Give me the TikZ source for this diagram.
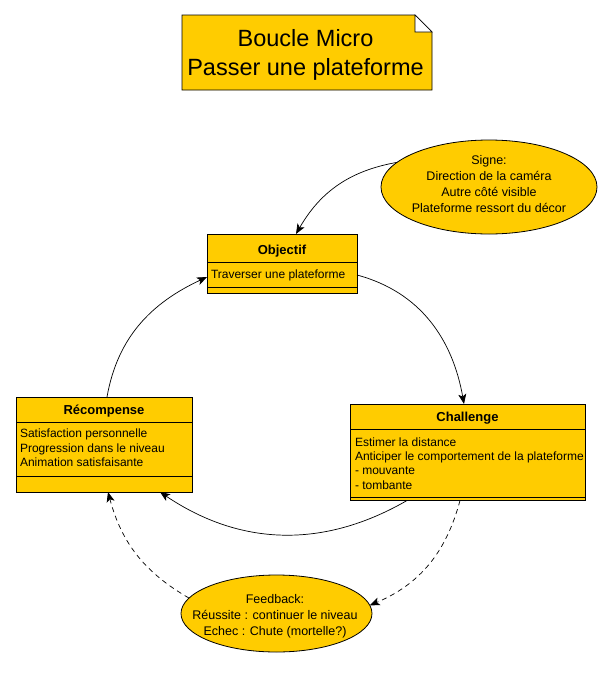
\documentclass[tikz,border=0pt]{standalone}
\usepackage{fontspec}
\setmainfont{Liberation Sans}
\usetikzlibrary{arrows.meta,calc,shapes.geometric}
\definecolor{umlfill}{HTML}{FFCC00}
\begin{document}
\begin{tikzpicture}[x=1pt,y=1pt,
  every node/.style={inner sep=0pt,outer sep=0pt},
  umlbox/.style={draw=black,fill=umlfill,line width=0.8pt,rectangle},
  umlell/.style={draw=black,fill=umlfill,line width=0.8pt,ellipse},
  boxtitle/.style={font=\fontsize{13}{15}\selectfont\bfseries,anchor=base},
  boxline/.style={font=\fontsize{12}{14}\selectfont,anchor=base west},
  elline/.style={font=\fontsize{12.5}{15}\selectfont,anchor=base},
  divider/.style={line width=0.8pt},
  arr/.style={line width=0.7pt,-{Stealth[length=10pt,width=8pt,inset=2.5pt]}},
  dasharr/.style={arr,dash pattern=on 5pt off 4pt}]
\fill[white] (0,0) rectangle (612,-673);
\useasboundingbox (0,0) rectangle (612,-673);

% note
\draw[fill=umlfill,line width=0.8pt] (182,-15) -- (415,-15) -- (432,-32) -- (432,-90) -- (182,-90) -- cycle;
\draw[fill=white,line width=0.6pt] (415,-15) -- (415,-32) -- (432,-32) -- cycle;
\node[font=\fontsize{23.5}{29}\selectfont,anchor=base] (notea) at (305.5,-46) {Boucle Micro};
\node[font=\fontsize{23.5}{29}\selectfont,anchor=base] (noteb) at (305.5,-75) {Passer une plateforme};

% Signe ellipse
\node[umlell,minimum width=216,minimum height=94] (sig) at (489,-187) {};
\node[elline] (sig1) at (489,-164.3) {Signe:};
\node[elline] (sig2) at (489,-180.3) {Direction de la caméra};
\node[elline] (sig3) at (489,-196.3) {Autre côté visible};
\node[elline] (sig4) at (489,-212.3) {Plateforme ressort du décor};

% Feedback ellipse
\node[umlell,minimum width=191,minimum height=77] (fb) at (276.5,-613.5) {};
\node[elline] (fb1) at (275,-603.3) {Feedback:};
\node[elline] (fb2) at (275,-619.5) {Réussite : continuer le niveau};
\node[elline] (fb3) at (275,-635.7) {Echec : Chute (mortelle?)};

% Objectif
\node[umlbox,minimum width=150,minimum height=59] (obj) at (282,-263.5) {};
\draw[divider] (207,-262) -- (357,-262);
\draw[divider] (207,-287) -- (357,-287);
\node[boxtitle] (objt) at (282,-254) {Objectif};
\node[boxline] (obj1) at (211,-278.3) {Traverser une plateforme};

% Recompense
\node[umlbox,minimum width=176,minimum height=95] (rec) at (104,-444.5) {};
\draw[divider] (16,-422) -- (192,-422);
\draw[divider] (16,-476) -- (192,-476);
\node[boxtitle] (rect) at (104,-414) {Récompense};
\node[boxline] (rec1) at (20,-437.7) {Satisfaction personnelle};
\node[boxline] (rec2) at (20,-452.2) {Progression dans le niveau};
\node[boxline] (rec3) at (20,-466.7) {Animation satisfaisante};

% Challenge
\node[umlbox,minimum width=235,minimum height=96.5] (chal) at (467.5,-452.25) {};
\draw[divider] (350,-429) -- (585,-429);
\draw[divider] (350,-497.5) -- (585,-497.5);
\node[boxtitle] (chalt) at (467.5,-421.7) {Challenge};
\node[boxline] (chal1) at (355,-446.5) {Estimer la distance};
\node[boxline] (chal2) at (355,-460.7) {Anticiper le comportement de la plateforme};
\node[boxline] (chal3) at (355,-474.9) {- mouvante};
\node[boxline] (chal4) at (355,-489.1) {- tombante};

% connectors
\draw[arr] (sig.165) to[out=190,in=60] ($(obj.north)+(14,0)$);
\draw[arr] ($(obj.east)+(0,-11.5)$) to[out=-15,in=100] ($(chal.north)+(-3.5,0)$);
\draw[arr] ($(rec.north)+(3,0)$) to[out=80,in=205] ($(obj.west)+(0,-13.5)$);
\draw[arr] ($(chal.south)+(-60.5,0)$) to[out=210,in=-34] ($(rec.south)+(56,0)$);
\draw[dasharr] ($(chal.south)+(-7.5,0)$) to[out=-105,in=23] (fb.5);
\draw[dasharr] (fb.170) to[out=150,in=-75] ($(rec.south)+(4,0)$);
\end{tikzpicture}
\end{document}
